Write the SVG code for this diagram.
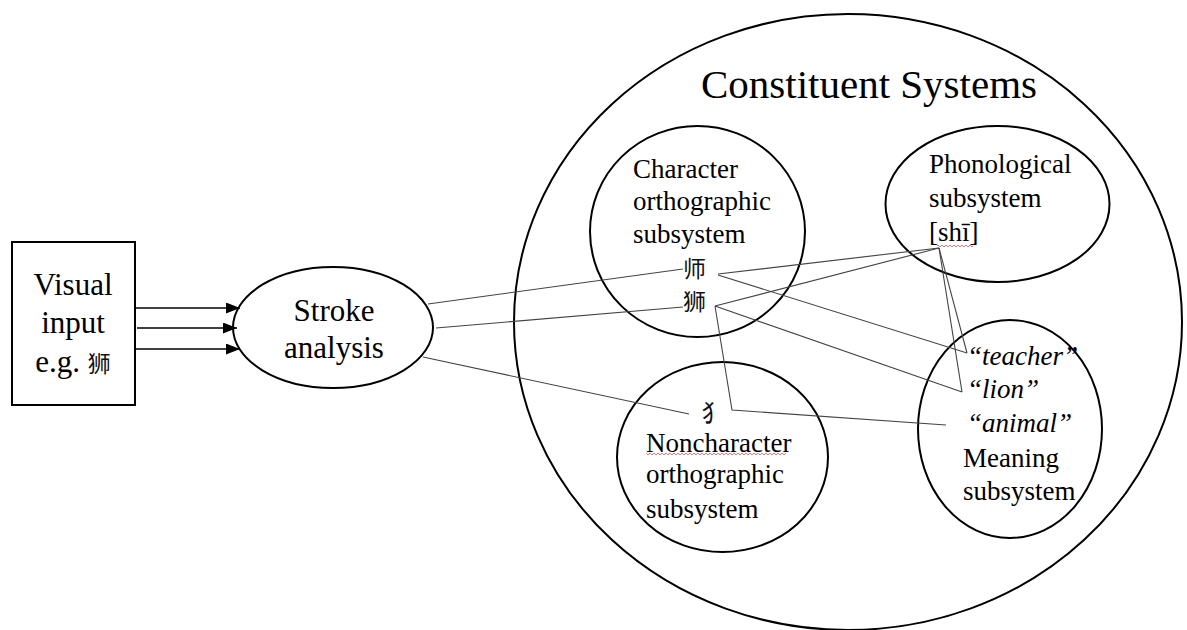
<svg xmlns="http://www.w3.org/2000/svg" width="1187" height="630" viewBox="0 0 1187 630">
<style>
.shape{fill:none;stroke:#000;stroke-width:2}
.conn{fill:none;stroke:#444;stroke-width:1.1}
.arr{fill:none;stroke:#000;stroke-width:1.3}
.t{font-family:'Liberation Serif','Times New Roman','DejaVu Serif',serif;fill:#000}
.big{font-size:31px}
.mid{font-size:27px}
.it{font-style:italic}
.cjk{font-family:'Noto Sans CJK SC',sans-serif;font-size:23px;fill:#111}
</style>
<defs>
<marker id="ah" markerUnits="userSpaceOnUse" markerWidth="14" markerHeight="11" refX="14" refY="5.5" orient="auto">
<path d="M0,0 L14,5.5 L0,11 z" fill="#000"/>
</marker>
<pattern id="sq" patternUnits="userSpaceOnUse" x="0" y="0" width="4" height="4">
<path d="M0,3 L2,1 L4,3" fill="none" stroke="#e05a5a" stroke-width="0.8"/>
</pattern>
</defs>
<rect width="1187" height="630" fill="#fff"/>

<g id="constituent-systems">
<ellipse class="shape" cx="848" cy="322" rx="334" ry="308"/>
<text class="t" x="701" y="98" font-size="41">Constituent Systems</text>
</g>

<g id="visual-input">
<rect class="shape" x="12" y="242" width="123" height="163"/>
<text class="t big" x="73" y="295" text-anchor="middle">Visual</text>
<text class="t big" x="73" y="333" text-anchor="middle">input</text>
<text class="t big" x="73" y="372" text-anchor="middle">e.g. <tspan class="cjk" font-size="28">狮</tspan></text>
</g>

<g id="stroke-analysis">
<ellipse class="shape" cx="333" cy="327.5" rx="100" ry="60.5"/>
<text class="t big" x="334" y="321" text-anchor="middle">Stroke</text>
<text class="t big" x="334" y="358" text-anchor="middle">analysis</text>
</g>

<g id="character-orthographic">
<ellipse class="shape" cx="697.5" cy="231.5" rx="107.5" ry="105.5"/>
<text class="t mid" x="633" y="178">Character</text>
<text class="t mid" x="633" y="210">orthographic</text>
<text class="t mid" x="633" y="243">subsystem</text>
<text class="cjk" x="683" y="277">师</text>
<text class="cjk" x="683" y="310">狮</text>
</g>

<g id="phonological">
<ellipse class="shape" cx="997.5" cy="204" rx="112" ry="78"/>
<text class="t mid" x="929" y="173">Phonological</text>
<text class="t mid" x="929" y="207">subsystem</text>
<text class="t mid" x="929" y="241">[shī]</text>
<rect x="937" y="244" width="36" height="4" fill="url(#sq)"/>
</g>

<g id="noncharacter-orthographic">
<ellipse class="shape" cx="722.5" cy="457" rx="105.5" ry="95"/>
<text class="cjk" x="713" y="421" text-anchor="middle" font-size="25">犭</text>
<text class="t mid" x="646" y="452">Noncharacter</text>
<rect x="646" y="452" width="140" height="4" fill="url(#sq)"/>
<text class="t mid" x="646" y="483">orthographic</text>
<text class="t mid" x="646" y="518">subsystem</text>
</g>

<g id="meaning">
<ellipse class="shape" cx="1010" cy="429" rx="92" ry="109"/>
<text class="t mid it" x="967" y="365">“teacher”</text>
<text class="t mid it" x="967" y="398">“lion”</text>
<text class="t mid it" x="967" y="432">“animal”</text>
<text class="t mid" x="963" y="467">Meaning</text>
<text class="t mid" x="963" y="500">subsystem</text>
</g>

<g id="connectors">
<path class="arr" d="M135,308 L240,308" marker-end="url(#ah)"/>
<path class="arr" d="M137,328 L237,328" marker-end="url(#ah)"/>
<path class="arr" d="M135,349 L240,349" marker-end="url(#ah)"/>
<path class="conn" d="M428,304 L683,269"/>
<path class="conn" d="M436,328 L683,307"/>
<path class="conn" d="M423,357 L689,414"/>
<path class="conn" d="M718,274 L939,248"/>
<path class="conn" d="M718,275 L967,353"/>
<path class="conn" d="M715,306 L939,248"/>
<path class="conn" d="M715,306 L962,392"/>
<path class="conn" d="M715,306 L732,410 L946,425"/>
<path class="conn" d="M939,248 L967,353"/>
<path class="conn" d="M939,248 L962,392"/>
</g>
</svg>
